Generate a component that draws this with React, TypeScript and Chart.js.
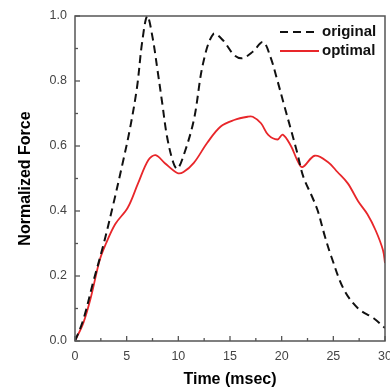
import React, { useEffect, useRef } from "react";
import { Chart, registerables } from "chart.js";

Chart.register(...registerables);

// ---- data ----
const seriesLabels = ["original", "optimal"];

const timeOriginal = [0, 0.8, 1.75, 2.7, 3.7, 4.7, 5.3, 6.0, 6.5, 7.0, 7.5, 8.0, 8.45, 8.9, 9.5, 9.9, 10.5, 11.5, 12.4, 13.4, 14.3, 15.4, 16.2, 17.2, 18.2, 18.9, 19.6, 20.2, 20.9, 21.5, 22.1, 23, 23.5, 24.2, 24.8, 26, 27.4, 28.9, 30];
const forceOriginal = [0, 0.065, 0.18, 0.29, 0.42, 0.56, 0.65, 0.78, 0.92, 1.0, 0.935, 0.83, 0.73, 0.63, 0.55, 0.53, 0.57, 0.68, 0.855, 0.945, 0.926, 0.88, 0.87, 0.89, 0.92, 0.875, 0.8, 0.73, 0.65, 0.58, 0.505, 0.44, 0.4, 0.32, 0.26, 0.16, 0.1, 0.07, 0.04];

const timeOptimal = [0, 0.8, 1.5, 2.4, 3.0, 3.9, 5.1, 6.1, 7.1, 7.8, 8.7, 9.9, 10.5, 11.5, 12.8, 14.1, 15.4, 16.7, 17.2, 18, 18.7, 19.6, 20.1, 20.9, 21.5, 22, 23.2, 24.5, 25.4, 26.4, 27.4, 28.3, 29.1, 29.8, 30];
const forceOptimal = [0, 0.055, 0.13, 0.25, 0.3, 0.36, 0.41, 0.485, 0.557, 0.572, 0.547, 0.517, 0.52, 0.548, 0.61, 0.66, 0.68, 0.69, 0.69, 0.67, 0.634, 0.62, 0.635, 0.6, 0.557, 0.535, 0.57, 0.55, 0.52, 0.485, 0.43, 0.39, 0.34, 0.28, 0.24];

const xTicks = [0, 5, 10, 15, 20, 25, 30];
const yTicks = [0, 0.2, 0.4, 0.6, 0.8, 1.0];

const xTitle = "Time (msec)";
const yTitle = "Normalized Force";

const FONT = "'Liberation Sans', Arial, Helvetica, sans-serif";

const framePlugin = {
  id: "frameTicksLegend",
  afterDatasetsDraw(chart: any) {
    const { ctx, chartArea, scales } = chart;
    const { left, right, top, bottom } = chartArea;
    const xs = scales.x;
    const ys = scales.y;
    ctx.save();
    // frame
    ctx.strokeStyle = "#555";
    ctx.lineWidth = 1.5;
    ctx.setLineDash([]);
    ctx.strokeRect(left, top, right - left, bottom - top);
    // ticks (inward), major + minor
    ctx.lineWidth = 1.3;
    const drawX = (v: number, len: number) => {
      const px = xs.getPixelForValue(v);
      ctx.beginPath();
      ctx.moveTo(px, bottom);
      ctx.lineTo(px, bottom - len);
      ctx.stroke();
    };
    const drawY = (v: number, len: number) => {
      const py = ys.getPixelForValue(v);
      ctx.beginPath();
      ctx.moveTo(left, py);
      ctx.lineTo(left + len, py);
      ctx.stroke();
    };
    xTicks.forEach((v, i) => {
      drawX(v, 5);
      if (i < xTicks.length - 1) drawX((v + xTicks[i + 1]) / 2, 3);
    });
    yTicks.forEach((v, i) => {
      drawY(v, 5);
      if (i < yTicks.length - 1) drawY((v + yTicks[i + 1]) / 2, 3);
    });
    // legend
    ctx.font = `bold 15px ${FONT}`;
    ctx.textBaseline = "middle";
    ctx.textAlign = "left";
    chart.data.datasets.forEach((ds: any, i: number) => {
      const y = top + 16 + i * 19;
      ctx.strokeStyle = ds.borderColor;
      ctx.lineWidth = ds.borderWidth;
      ctx.setLineDash(ds.borderDash || []);
      ctx.beginPath();
      ctx.moveTo(right - 105, y);
      ctx.lineTo(right - 66, y);
      ctx.stroke();
      ctx.setLineDash([]);
      ctx.fillStyle = "#111";
      ctx.fillText(ds.label, right - 63, y);
    });
    ctx.restore();
  },
};

export default function App() {
  const canvasRef = useRef<HTMLCanvasElement | null>(null);

  useEffect(() => {
    if (!canvasRef.current) return;
    const chart = new Chart(canvasRef.current, {
      type: "line",
      data: {
        datasets: [
          {
            label: seriesLabels[0],
            data: timeOriginal.map((t, i) => ({ x: t, y: forceOriginal[i] })),
            borderColor: "#111",
            borderWidth: 2,
            borderDash: [8, 5],
            pointRadius: 0,
            fill: false,
            tension: 0.35,
          },
          {
            label: seriesLabels[1],
            data: timeOptimal.map((t, i) => ({ x: t, y: forceOptimal[i] })),
            borderColor: "#e8262a",
            borderWidth: 1.8,
            pointRadius: 0,
            fill: false,
            tension: 0.35,
          },
        ],
      },
      options: {
        responsive: false,
        animation: false,
        events: [],
        layout: { padding: { top: 16, right: 5, left: 0, bottom: 0 } },
        plugins: { legend: { display: false }, tooltip: { enabled: false } },
        scales: {
          x: {
            type: "linear",
            min: 0,
            max: 30,
            afterBuildTicks: (s: any) => {
              s.ticks = xTicks.map((v) => ({ value: v }));
            },
            grid: { display: false, drawTicks: false },
            border: { display: false },
            ticks: {
              padding: 8,
              color: "#444",
              font: { family: FONT, size: 12.5 },
              maxRotation: 0,
              autoSkip: false,
              callback: (v: any) => String(v),
            },
            title: {
              display: true,
              text: xTitle,
              color: "#000",
              font: { family: FONT, size: 16, weight: "bold" },
              padding: { top: 0, bottom: 2.5 },
            },
            afterFit: (s: any) => {
              s.height = 51;
              s.paddingLeft = 0;
              s.paddingRight = 0;
            },
          },
          y: {
            type: "linear",
            min: 0,
            max: 1,
            afterBuildTicks: (s: any) => {
              s.ticks = yTicks.map((v) => ({ value: v }));
            },
            grid: { display: false, drawTicks: false },
            border: { display: false },
            ticks: {
              padding: 8,
              color: "#444",
              font: { family: FONT, size: 12.5 },
              autoSkip: false,
              callback: (v: any) => Number(v).toFixed(1),
            },
            title: {
              display: true,
              text: yTitle,
              color: "#000",
              font: { family: FONT, size: 16, weight: "bold" },
              padding: { top: 15.5, bottom: 0 },
            },
            afterFit: (s: any) => {
              s.width = 75;
              s.paddingTop = 0;
              s.paddingBottom = 0;
            },
          },
        },
      } as any,
      plugins: [framePlugin],
    });
    return () => chart.destroy();
  }, []);

  return (
    <div style={{ position: "absolute", left: 0, top: 0, width: 390, height: 392, background: "#fff" }}>
      <canvas ref={canvasRef} width={390} height={392} style={{ display: "block" }} />
    </div>
  );
}
